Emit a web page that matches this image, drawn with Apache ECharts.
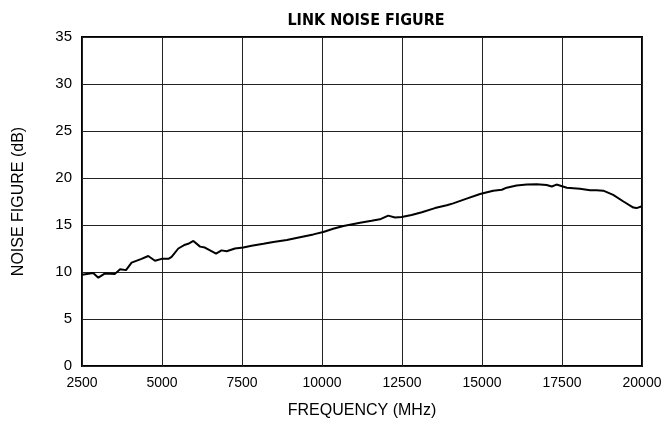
<!DOCTYPE html>
<html><head><meta charset="utf-8">
<script src="https://cdn.jsdelivr.net/npm/echarts@6/dist/echarts.min.js"></script>
<style>html,body{margin:0;padding:0;background:#fff}#c{width:668px;height:425px}</style>
</head><body><div id="c"></div>
<script>
const freqMHz = [2500,2850,3010,3220,3530,3690,3875,4050,4360,4570,4780,4990,5200,5300,5510,5720,5820,5980,6190,6340,6690,6860,7020,7280,7540,7800,8170,8480,8900,9310,9730,10040,10350,10670,11190,11550,11810,12070,12280,12490,12800,13120,13530,13900,14100,14520,14940,15350,15620,15770,16080,16400,16710,17020,17180,17330,17650,18060,18380,18580,18790,19100,19420,19730,19830,20000];
const noiseFigureDb = [9.7,9.9,9.4,9.85,9.8,10.3,10.2,11.0,11.4,11.7,11.2,11.4,11.4,11.6,12.5,12.9,13.0,13.3,12.7,12.6,11.95,12.3,12.2,12.5,12.6,12.8,13.0,13.2,13.4,13.7,14.0,14.25,14.6,14.9,15.25,15.45,15.6,16.0,15.8,15.85,16.06,16.35,16.8,17.1,17.3,17.8,18.3,18.65,18.75,18.97,19.2,19.3,19.33,19.26,19.1,19.3,18.97,18.86,18.7,18.7,18.65,18.2,17.5,16.85,16.8,17.0];
const xTicks = [2500,5000,7500,10000,12500,15000,17500,20000];
const yTicks = [0,5,10,15,20,25,30,35];

const chart = echarts.init(document.getElementById('c'), null, {renderer:'canvas'});
chart.setOption({
  animation:false,
  backgroundColor:'#fff',
  title:{text:'LINK NOISE FIGURE', left:361, top:8, textAlign:'center',
    textStyle:{fontFamily:'DejaVu Sans Condensed, sans-serif', fontWeight:'bold', fontSize:16, color:'#000'}},
  grid:{left:82, right:26, top:37, bottom:59, show:true, borderColor:'#000', borderWidth:2},
  xAxis:{type:'value', min:xTicks[0], max:xTicks[xTicks.length-1], interval:2500,
    name:'FREQUENCY (MHz)', nameLocation:'middle', nameGap:37,
    nameTextStyle:{fontFamily:'Liberation Sans, Arial, sans-serif', fontSize:16, color:'#000'},
    axisLine:{show:false}, axisTick:{show:false},
    axisLabel:{margin:10, fontFamily:'Liberation Sans, Arial, sans-serif', fontSize:14, color:'#000',
      formatter:v=>String(v)},
    splitLine:{show:true, lineStyle:{color:'#222', width:1}}},
  yAxis:{type:'value', min:yTicks[0], max:yTicks[yTicks.length-1], interval:5,
    name:'NOISE FIGURE (dB)', nameLocation:'middle', nameGap:55, nameRotate:90,
    nameTextStyle:{fontFamily:'Liberation Sans, Arial, sans-serif', fontSize:16, color:'#000'},
    axisLine:{show:false}, axisTick:{show:false},
    axisLabel:{margin:10, fontFamily:'Liberation Sans, Arial, sans-serif', fontSize:15, color:'#000'},
    splitLine:{show:true, lineStyle:{color:'#222', width:1}}},
  series:[{type:'line', data:freqMHz.map((f,i)=>[f,noiseFigureDb[i]]), showSymbol:false,
    lineStyle:{color:'#000', width:2}, smooth:false}]
});
</script></body></html>
